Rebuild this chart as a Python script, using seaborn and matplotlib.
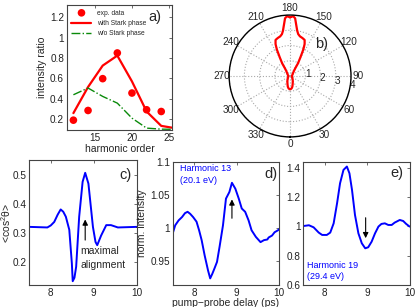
import numpy as np
import pandas as pd
import matplotlib
matplotlib.use("Agg")
import matplotlib.pyplot as plt
import seaborn as sns

# ---------------- data ----------------
# panel a
harm_exp = [12, 14, 16, 18, 20, 22, 24]
ratio_exp = [0.19, 0.285, 0.597, 0.849, 0.456, 0.292, 0.275]
harm_model = [12, 14, 16, 18, 20, 22, 24, 26]
ratio_stark = [0.259, 0.515, 0.725, 0.823, 0.57, 0.275, 0.134, 0.11]
ratio_nostark = [0.439, 0.505, 0.423, 0.357, 0.21, 0.112, 0.102, 0.10]

# panel b (polar, right half; left half mirrored)
theta_half_deg = [180, 177, 175, 173.5, 171, 169, 166, 162, 158, 155.5, 153.5,
                  151, 148, 146, 142, 135, 120, 90, 60, 35, 25, 18, 12, 7, 3, 0]
r_half = [3.85, 3.93, 3.8, 3.45, 3.0, 2.8, 2.68, 2.62, 2.55, 2.3, 1.95,
          1.4, 0.98, 0.6, 0.4, 0.28, 0.18, 0.12, 0.15, 0.3, 0.42, 0.55, 0.72, 0.82, 0.86, 0.87]

# panel c
t_c = [7.5, 7.92, 8.0, 8.08, 8.16, 8.23, 8.29, 8.35, 8.43, 8.49, 8.51, 8.55, 8.59,
       8.66, 8.74, 8.80, 8.875, 8.98, 9.04, 9.08, 9.17, 9.29, 9.4, 9.56, 10.0]
cos2_c = [0.32, 0.318, 0.325, 0.337, 0.362, 0.38, 0.372, 0.355, 0.31, 0.194, 0.133, 0.145, 0.183,
          0.355, 0.475, 0.506, 0.469, 0.32, 0.268, 0.257, 0.29, 0.326, 0.326, 0.318, 0.32]

# panel d
t_d = [7.51, 7.56, 7.64, 7.72, 7.79, 7.85, 7.91, 7.98, 8.06, 8.12, 8.18, 8.25, 8.33,
       8.38, 8.43, 8.48, 8.54, 8.6, 8.68, 8.75, 8.83, 8.89, 8.97, 9.05, 9.12, 9.2,
       9.28, 9.35, 9.45, 9.56, 9.64, 9.72, 9.75, 9.83, 9.89, 9.97, 10.0]
int_d = [0.993, 1.0035, 1.011, 1.016, 1.022, 1.024, 1.021, 1.016, 1.009, 0.996, 0.981,
         0.958, 0.935, 0.923, 0.930, 0.938, 0.948, 0.971, 1.0035, 1.044, 1.054, 1.068,
         1.059, 1.044, 1.029, 1.024, 1.011, 0.996, 0.986, 0.978, 0.981, 0.982, 0.985,
         0.988, 0.993, 0.996, 0.998]

# panel e
t_e = [7.51, 7.63, 7.74, 7.86, 7.94, 8.05, 8.13, 8.21, 8.29, 8.36, 8.44, 8.52, 8.58,
       8.64, 8.71, 8.79, 8.87, 8.95, 9.02, 9.10, 9.18, 9.26, 9.33, 9.41, 9.49, 9.57,
       9.64, 9.76, 9.84, 9.91, 9.99]
int_e = [1.002, 1.007, 0.993, 0.957, 0.941, 0.941, 0.957, 1.02, 1.157, 1.293, 1.384,
         1.407, 1.361, 1.248, 1.077, 0.952, 0.884, 0.85, 0.857, 0.895, 0.952, 0.998,
         1.016, 1.02, 1.009, 1.009, 1.025, 1.043, 1.036, 1.016, 0.998]

# ---------------- style ----------------
sns.set_theme(style="white")
plt.rcParams['font.family'] = ['Liberation Sans', 'DejaVu Sans']
plt.rcParams['mathtext.fontset'] = 'custom'
plt.rcParams['mathtext.rm'] = 'Liberation Sans'
plt.rcParams['mathtext.it'] = 'Liberation Sans:italic'

TICK = 7.2
LAB = 7.5
PANEL = 10.5

fig = plt.figure(figsize=(4.15, 3.07), dpi=100)

def style_box(ax):
    for s in ax.spines.values():
        s.set_color('#444444')
        s.set_linewidth(0.8)
    ax.tick_params(direction='in', length=2, width=0.6, labelsize=TICK,
                   top=True, right=True, pad=2, colors='#555555', labelcolor='#222222')

# ---------- panel a ----------
ax_a = fig.add_axes([0.161, 0.577, 0.254, 0.407])
df_exp = pd.DataFrame({'h': harm_exp, 'r': ratio_exp})
df_mod = pd.DataFrame({'h': harm_model, 's': ratio_stark, 'n': ratio_nostark})
sns.scatterplot(data=df_exp, x='h', y='r', ax=ax_a, color='red', s=30,
                edgecolor='none', label='exp. data', zorder=3)
sns.lineplot(data=df_mod, x='h', y='s', ax=ax_a, color='red', lw=1.6,
             label='with Stark phase')
sns.lineplot(data=df_mod, x='h', y='n', ax=ax_a, color='#0a8a0a', lw=1.0,
             linestyle='-.', label='w/o Stark phase')
ax_a.set_xlim(11.1, 25.5)
ax_a.set_ylim(0.095, 1.32)
ax_a.set_xticks([15, 20, 25])
ax_a.set_yticks([0.2, 0.4, 0.6, 0.8, 1.0, 1.2])
ax_a.set_yticklabels(['0.2', '0.4', '0.6', '0.8', '1', '1.2'])
ax_a.set_xlabel('harmonic order', fontsize=LAB, labelpad=1)
ax_a.set_ylabel('intensity ratio', fontsize=LAB, labelpad=2)
style_box(ax_a)
leg = ax_a.legend(loc='upper left', fontsize=4.8, frameon=False,
                  bbox_to_anchor=(0.0, 1.0), handlelength=3.0, borderaxespad=0.3,
                  labelspacing=0.5)
ax_a.text(22.2, 1.2, 'a)', fontsize=PANEL, va='center')

# ---------- panel b ----------
ax_b = fig.add_axes([0.552, 0.554, 0.294, 0.397], projection='polar')
th_full = list(theta_half_deg) + [360 - t for t in theta_half_deg[::-1]]
r_full = list(r_half) + list(r_half[::-1])
df_pol = pd.DataFrame({'th': np.deg2rad(th_full), 'r': r_full})
ax_b.set_theta_zero_location('S')
ax_b.set_theta_direction(1)
sns.lineplot(data=df_pol, x='th', y='r', ax=ax_b, sort=False, estimator=None,
             color='red', lw=1.6)
ax_b.set_rlim(0, 4)
ax_b.set_rticks([1, 2, 3, 4])
ax_b.set_yticklabels(['1', '2', '3', '4'], fontsize=TICK)
ax_b.set_rlabel_position(77)
ax_b.set_thetagrids(range(0, 360, 30), [str(a) for a in range(0, 360, 30)], fontsize=TICK)
ax_b.tick_params(axis='x', pad=-8)
ax_b.grid(True, color='#aaaaaa', linestyle=':', linewidth=0.8)
ax_b.spines['polar'].set_color('black')
ax_b.spines['polar'].set_linewidth(1.0)
ax_b.set_xlabel('')
ax_b.set_ylabel('')
ax_b.text(np.deg2rad(142), 2.7, 'b)', fontsize=PANEL, ha='left', va='center')

# ---------- panel c ----------
ax_c = fig.add_axes([0.0706, 0.0717, 0.259, 0.407])
sns.lineplot(x=t_c, y=cos2_c, ax=ax_c, color='blue', lw=1.4)
ax_c.set_xlim(7.5, 10)
ax_c.set_ylim(0.12, 0.55)
ax_c.set_xticks([8, 9, 10])
ax_c.set_yticks([0.2, 0.3, 0.4, 0.5])
ax_c.set_ylabel(r'<cos$^2$θ>', fontsize=LAB)
ax_c.yaxis.set_label_coords(-0.15, 0.5)
style_box(ax_c)
ax_c.annotate('', xy=(8.8, 0.355), xytext=(8.8, 0.265),
              arrowprops=dict(arrowstyle='-|>', color='black', lw=0.8,
                              mutation_scale=8))
ax_c.text(8.69, 0.236, 'maximal', fontsize=LAB, va='center')
ax_c.text(8.69, 0.19, 'alignment', fontsize=LAB, va='center')
ax_c.text(9.6, 0.5, 'c)', fontsize=PANEL, va='center')

# ---------- panel d ----------
ax_d = fig.add_axes([0.416, 0.0717, 0.257, 0.4016])
sns.lineplot(x=t_d, y=int_d, ax=ax_d, color='blue', lw=1.4)
ax_d.set_xlim(7.5, 10)
ax_d.set_ylim(0.913, 1.1)
ax_d.set_xticks([8, 9, 10])
ax_d.set_yticks([0.95, 1.0, 1.05, 1.1])
ax_d.set_yticklabels(['0.95', '1', '1.05', '1.1'])
ax_d.set_xlabel('pump\u2212probe delay (ps)', fontsize=LAB)
ax_d.xaxis.set_label_coords(0.5, -0.108)
ax_d.set_ylabel('norm. intensity', fontsize=LAB, labelpad=2)
style_box(ax_d)
ax_d.annotate('', xy=(8.89, 1.047), xytext=(8.89, 1.01),
              arrowprops=dict(arrowstyle='-|>', color='black', lw=0.8,
                              mutation_scale=8))
ax_d.text(7.68, 1.089, 'Harmonic 13', fontsize=6.5, color='blue', va='center')
ax_d.text(7.68, 1.072, '(20.1 eV)', fontsize=6.5, color='blue', va='center')
ax_d.text(9.64, 1.082, 'd)', fontsize=PANEL, va='center')

# ---------- panel e ----------
ax_e = fig.add_axes([0.731, 0.0717, 0.257, 0.4016])
sns.lineplot(x=t_e, y=int_e, ax=ax_e, color='blue', lw=1.4)
ax_e.set_xlim(7.5, 10)
ax_e.set_ylim(0.6, 1.44)
ax_e.set_xticks([8, 9, 10])
ax_e.set_yticks([0.6, 0.8, 1.0, 1.2, 1.4])
ax_e.set_yticklabels(['0.6', '0.8', '1', '1.2', '1.4'])
style_box(ax_e)
ax_e.annotate('', xy=(8.96, 0.9), xytext=(8.96, 1.077),
              arrowprops=dict(arrowstyle='-|>', color='black', lw=0.8,
                              mutation_scale=8))
ax_e.text(7.59, 0.736, 'Harmonic 19', fontsize=6.5, color='blue', va='center')
ax_e.text(7.59, 0.657, '(29.4 eV)', fontsize=6.5, color='blue', va='center')
ax_e.text(9.53, 1.36, 'e)', fontsize=PANEL, va='center')

fig.savefig('out.png', dpi=100)
